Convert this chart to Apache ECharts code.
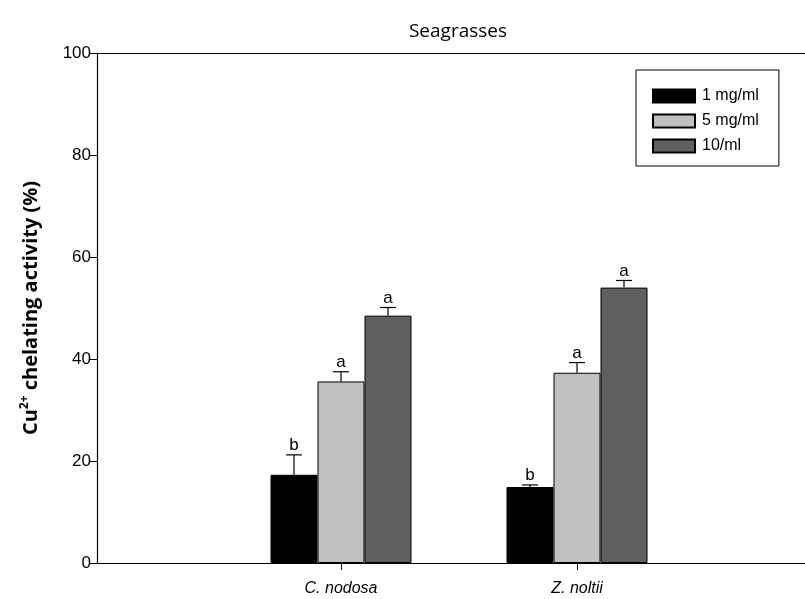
<!DOCTYPE html>
<html>
<head>
<meta charset="utf-8">
<script src="https://cdn.jsdelivr.net/npm/echarts@6/dist/echarts.min.js"></script>
<style>
  html, body { margin: 0; padding: 0; background: #fff; }
  #chart { width: 805px; height: 599px; }
</style>
</head>
<body>
<div id="chart"></div>
<script>
// data
const categories = ['C. nodosa', 'Z. noltii'];
const doseNames = ['1 mg/ml', '5 mg/ml', '10/ml'];
const dose1 = [17.3, 14.9];
const dose5 = [35.6, 37.3];
const dose10 = [48.5, 54.0];
const err1 = [3.9, 0.4];
const err5 = [1.9, 2.0];
const err10 = [1.6, 1.4];
const letters1 = ['b', 'b'];
const letters5 = ['a', 'a'];
const letters10 = ['a', 'a'];
const yTicks = { min: 0, max: 100, interval: 20 };

const colors = ['#000000', '#c0c0c0', '#606060'];
const barW = 47;

const values = [dose1, dose5, dose10];
const errs = [err1, err5, err10];
const letters = [letters1, letters5, letters10];

let chart = echarts.init(document.getElementById('chart'));

const errorSeries = (k) => ({
    type: 'custom',
    xAxisIndex: 2,
    yAxisIndex: 1,
    silent: true,
    z: 5,
    data: categories.map((c, i) => [i, values[k][i], values[k][i] + errs[k][i]]),
    renderItem: (params, api) => {
        const off = (k - 1) * barW;
        const p0 = api.coord([api.value(0), api.value(1)]);
        const p1 = api.coord([api.value(0), api.value(2)]);
        const x = p0[0] + off;
        return {
            type: 'group',
            children: [
                { type: 'line', shape: { x1: x, y1: p0[1], x2: x, y2: p1[1] }, style: { stroke: '#000', lineWidth: 1.2 } },
                { type: 'line', shape: { x1: x - 8, y1: p1[1], x2: x + 8, y2: p1[1] }, style: { stroke: '#000', lineWidth: 1.2 } },
                {
                    type: 'text',
                    style: {
                        text: letters[k][params.dataIndex],
                        x: x, y: p1[1] - 1,
                        align: 'center', verticalAlign: 'bottom',
                        font: '17px "Liberation Sans"', fill: '#000'
                    }
                }
            ]
        };
    }
});

let option = {
    animation: false,
    title: {
        text: 'Seagrasses',
        left: 453,
        top: 17,
        textAlign: 'center',
        textStyle: { fontFamily: 'Open Sans', fontWeight: 'normal', fontSize: 19, color: '#000' }
    },
    legend: {
        orient: 'vertical',
        left: 636,
        top: 70,
        data: doseNames,
        icon: 'rect',
        itemWidth: 42,
        itemHeight: 13,
        itemGap: 9,
        padding: [18, 20, 12, 16],
        borderColor: '#000',
        borderWidth: 1,
        textStyle: { fontFamily: 'Liberation Sans', fontSize: 16, color: '#000', padding: [0, 0, 0, 2] }
    },
    grid: [
        { left: 97, right: 0, top: 53, bottom: 36 },
        { left: 223, right: 110, top: 53, bottom: 36 }
    ],
    xAxis: [
        {
            type: 'value', gridIndex: 0, min: 0, max: 1,
            axisLine: { show: true, lineStyle: { color: '#000', width: 1.2 } },
            axisTick: { show: false }, axisLabel: { show: false }, splitLine: { show: false }
        },
        {
            type: 'value', gridIndex: 0, position: 'top', min: 0, max: 1,
            axisLine: { show: true, lineStyle: { color: '#000', width: 1.2 } },
            axisTick: { show: false }, axisLabel: { show: false }, splitLine: { show: false }
        },
        {
            type: 'category', gridIndex: 1, data: categories,
            axisLine: { show: false },
            axisTick: { show: true, alignWithLabel: true, length: 7, lineStyle: { color: '#000' } },
            axisLabel: { fontFamily: 'Liberation Sans', fontStyle: 'italic', fontSize: 16, color: '#000', margin: 18 }
        }
    ],
    yAxis: [
        {
            type: 'value', gridIndex: 0, min: yTicks.min, max: yTicks.max, interval: yTicks.interval,
            axisLine: { show: true, lineStyle: { color: '#000', width: 1.2 } },
            axisTick: { show: true, length: 7, lineStyle: { color: '#000' } },
            axisLabel: { fontFamily: 'Liberation Sans', fontSize: 17, color: '#000', margin: 6 },
            splitLine: { show: false },
            name: '{a|Cu}{b|2+}{a| chelating activity (%)}',
            nameLocation: 'middle',
            nameGap: 54,
            nameTextStyle: {
                rich: {
                    a: { fontFamily: 'Open Sans', fontWeight: 'bold', fontSize: 20, color: '#000' },
                    b: { fontFamily: 'Open Sans', fontWeight: 'bold', fontSize: 12, color: '#000', padding: [0, 0, 12, 0] }
                }
            }
        },
        {
            type: 'value', gridIndex: 1, min: yTicks.min, max: yTicks.max, interval: yTicks.interval,
            show: false, splitLine: { show: false }
        }
    ],
    series: [
        ...doseNames.map((name, k) => ({
            name: name,
            type: 'bar',
            xAxisIndex: 2,
            yAxisIndex: 1,
            barWidth: barW,
            barGap: '0%',
            data: values[k],
            itemStyle: { color: colors[k], borderColor: '#000', borderWidth: 1 }
        })),
        errorSeries(0),
        errorSeries(1),
        errorSeries(2)
    ]
};

chart.setOption(option);
</script>
</body>
</html>
